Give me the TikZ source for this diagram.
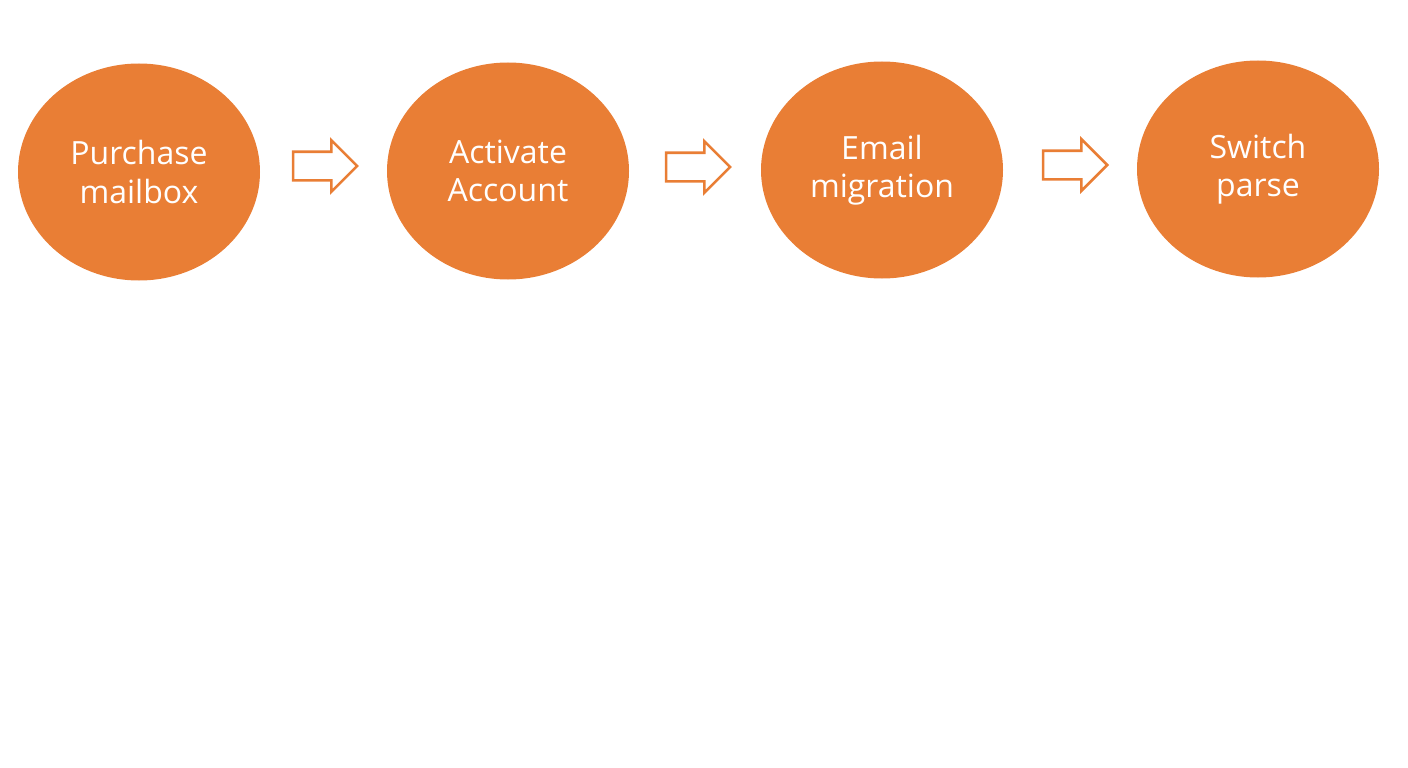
\documentclass[tikz,border=0pt]{standalone}
\usepackage{fontspec}
\setmainfont{Open Sans}
\usetikzlibrary{shapes.arrows,shapes.geometric}
\definecolor{orng}{HTML}{E97E35}
\tikzset{
  stage/.style={ellipse, fill=orng, minimum width=242pt, minimum height=217pt, inner sep=0pt,
    text=white, align=center, font=\fontsize{32}{38.5}\selectfont},
  flowarrow/.style={single arrow, draw=orng, line width=2.6pt, fill=white,
    minimum height=64pt, single arrow head extend=11.5pt, inner xsep=0pt, inner ysep=13pt,
    single arrow head indent=0pt},
}
\begin{document}
\begin{tikzpicture}[x=1pt,y=-1pt]
\useasboundingbox (0,0) rectangle (1408,768);
\node[stage] (s1) at (139,172) {Purchase\\mailbox};
\node[stage] (s2) at (508,171) {Activate\\Account};
\node[stage] (s3) at (882,170) {Email\\migration};
\node[stage] (s4) at (1258,169) {Switch\\parse};
\node[flowarrow] (a1) at (318,166) {};
\node[flowarrow] (a2) at (691,167) {};
\node[flowarrow] (a3) at (1068,165) {};
\end{tikzpicture}
\end{document}
